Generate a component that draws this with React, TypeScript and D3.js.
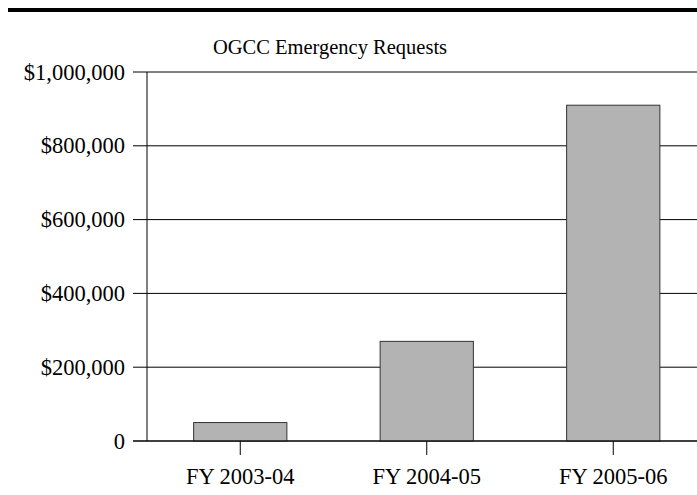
import React from "react";
import * as d3 from "d3";

const categories = ["FY 2003-04", "FY 2004-05", "FY 2005-06"];
const values = [50000, 270000, 910000];
const yTicks = [0, 200000, 400000, 600000, 800000, 1000000];
const title = "OGCC Emergency Requests";

const W = 697;
const H = 495;
const FONT = "'Liberation Serif', 'Times New Roman', serif";

export default function App() {
  const y = d3.scaleLinear().domain([0, 1000000]).range([441, 72]);
  const x = d3
    .scaleBand<string>()
    .domain(categories)
    .range([147, 706.5])
    .paddingInner(0.5)
    .paddingOuter(0.25);
  const fmt = (v: number) => (v === 0 ? "0" : "$" + d3.format(",")(v));

  return (
    <svg
      width={W}
      height={H}
      style={{ position: "absolute", left: 0, top: 0, background: "#fff" }}
    >
      <line x1={8} x2={W} y1={10} y2={10} stroke="#000" strokeWidth={4} />
      <text
        x={330}
        y={47}
        textAnchor="middle"
        dominantBaseline="central"
        fontFamily={FONT}
        fontSize={20.5}
        fill="#000"
      >
        {title}
      </text>
      {yTicks.map((t) => (
        <g key={t}>
          <line x1={133} x2={W} y1={y(t)} y2={y(t)} stroke="#000" strokeWidth={1} />
          <text
            x={125}
            y={y(t)}
            textAnchor="end"
            dominantBaseline="central"
            fontFamily={FONT}
            fontSize={22.5}
            fill="#000"
          >
            {fmt(t)}
          </text>
        </g>
      ))}
      <line x1={147} x2={147} y1={y(1000000)} y2={y(0)} stroke="#000" strokeWidth={1} />
      {categories.map((c, i) => (
        <rect
          key={c}
          x={x(c)}
          y={y(values[i])}
          width={x.bandwidth()}
          height={y(0) - y(values[i])}
          fill="#b3b3b3"
          stroke="#333"
          strokeWidth={1}
        />
      ))}
      <line x1={133} x2={W} y1={y(0)} y2={y(0)} stroke="#000" strokeWidth={1} />
      {categories.map((c) => {
        const cx = (x(c) as number) + x.bandwidth() / 2;
        return (
          <g key={c}>
            <line x1={cx} x2={cx} y1={y(0)} y2={y(0) + 14} stroke="#000" strokeWidth={1} />
            <text
              x={cx}
              y={476}
              textAnchor="middle"
              dominantBaseline="central"
              fontFamily={FONT}
              fontSize={22.5}
              fill="#000"
            >
              {c}
            </text>
          </g>
        );
      })}
    </svg>
  );
}
